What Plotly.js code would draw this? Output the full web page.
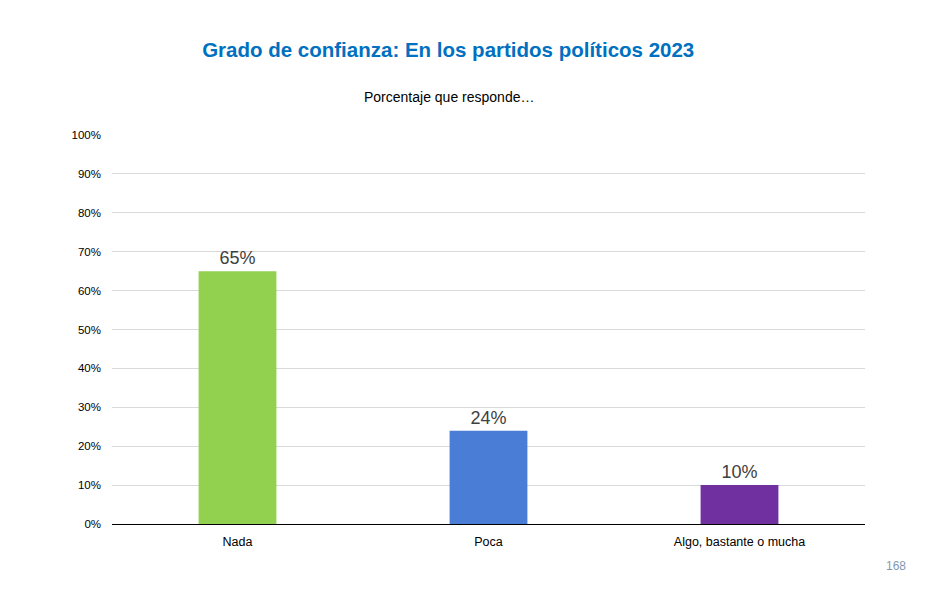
<!DOCTYPE html>
<html>
<head>
<meta charset="utf-8">
<script src="https://cdn.plot.ly/plotly-3.0.1.min.js"></script>
<style>
  html, body { margin: 0; padding: 0; background: #fff; }
  #chart { width: 928px; height: 594px; }
</style>
</head>
<body>
<div id="chart"></div>
<script>
const categories = ['Nada', 'Poca', 'Algo, bastante o mucha'];
const values = [65, 24, 10];
const barColors = ['#92D050', '#4A7ED6', '#7030A0'];
const tickValues = [0, 10, 20, 30, 40, 50, 60, 70, 80, 90, 100];
const tickLabels = tickValues.map(v => v + '%');

const font = 'Liberation Sans, Arial, sans-serif';

// plot area in pixels: x 112..865, y 135..524
const plotTop = 135, plotBottom = 524;
const plotH = plotBottom - plotTop;
const pyToPaper = py => (plotBottom - py) / plotH;
const pxToPaper = px => (px - 112) / 753;

const data = [{
    type: 'bar',
    x: categories,
    y: values,
    width: 0.31,
    marker: { color: barColors, line: { width: 0 } },
    text: values.map(v => v + '%'),
    textposition: 'outside',
    cliponaxis: false,
    textfont: { family: font, size: 18, color: '#404040' },
    hoverinfo: 'none'
}];

const layout = {
    width: 928,
    height: 594,
    margin: { l: 112, r: 63, t: 135, b: 70 },
    paper_bgcolor: '#ffffff',
    plot_bgcolor: '#ffffff',
    showlegend: false,
    title: {
        text: '<b>Grado de confianza: En los partidos políticos 2023</b>',
        font: { family: font, size: 20.5, color: '#0070C0' },
        x: 0.483,
        xref: 'container',
        xanchor: 'center',
        y: 1 - 50 / 594,
        yref: 'container',
        yanchor: 'middle'
    },
    annotations: [{
        text: 'Porcentaje que responde…',
        xref: 'paper', yref: 'paper',
        x: pxToPaper(449), y: pyToPaper(97),
        xanchor: 'center', yanchor: 'middle',
        showarrow: false,
        font: { family: font, size: 14, color: '#000000' }
    }, {
        text: '168',
        xref: 'paper', yref: 'paper',
        x: pxToPaper(896), y: pyToPaper(566),
        xanchor: 'center', yanchor: 'middle',
        showarrow: false,
        font: { family: font, size: 12, color: '#8497B0' }
    }],
    xaxis: {
        showgrid: false,
        showline: false,
        ticks: '',
        ticklabelstandoff: 8,
        tickfont: { family: font, size: 12.5, color: '#000000' },
        fixedrange: true
    },
    yaxis: {
        range: [0, 100],
        tickvals: tickValues,
        ticktext: tickLabels,
        showgrid: true,
        gridcolor: '#D9D9D9',
        gridwidth: 1,
        zeroline: true,
        zerolinecolor: '#000000',
        zerolinewidth: 1,
        showline: false,
        ticks: '',
        ticklabelstandoff: 10,
        tickfont: { family: font, size: 11.5, color: '#000000' },
        fixedrange: true
    }
};

Plotly.newPlot('chart', data, layout, { displayModeBar: false, staticPlot: true });
</script>
</body>
</html>
